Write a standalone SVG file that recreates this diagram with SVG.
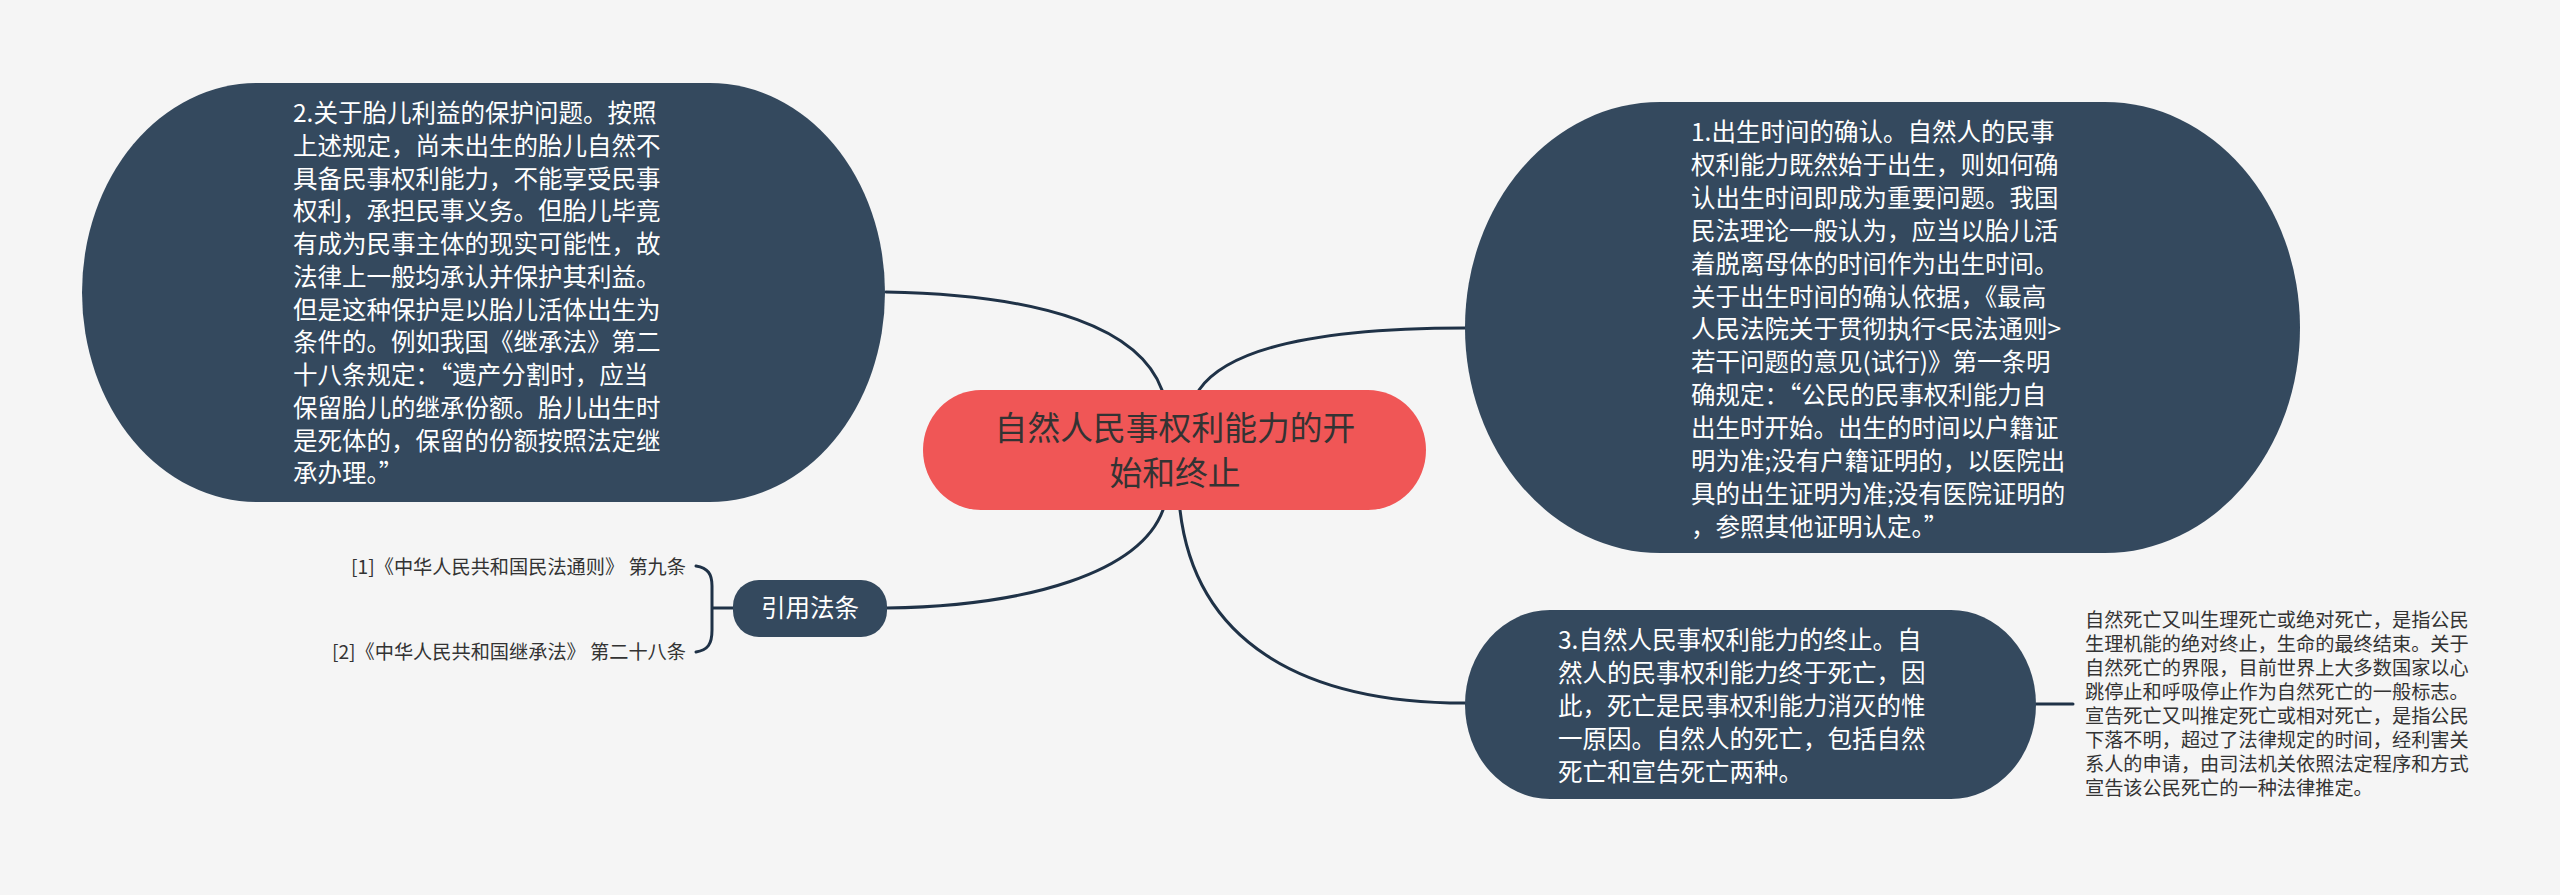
<svg xmlns="http://www.w3.org/2000/svg" width="2560" height="895" viewBox="0 0 2560 895">
<style>
.bg{fill:#f5f5f5}
.topic{fill:#34495e}
.root{fill:#f05656}
.conn{fill:none;stroke:#1f3247;stroke-width:3;stroke-linecap:round}
.t{font-family:"Noto Sans CJK SC","Noto Sans",sans-serif}
.w{fill:#ffffff;font-size:24.5px}
.rt{fill:#333333;font-size:32.8px}
.s{fill:#333333;font-size:19.2px}
</style>
<rect class="bg" x="0" y="0" width="2560" height="895"/>
<g id="connectors">
<path class="conn" d="M886 292 C1050 295 1140 330 1162 390"/>
<path class="conn" d="M1199 390 C1230 345 1330 328 1465 328"/>
<path class="conn" d="M1163 510 C1140 572 1030 606 887 608"/>
<path class="conn" d="M1180 510 C1195 640 1300 703 1465 703"/>
<path class="conn" d="M2036 704 L2073 704"/>
<path class="conn" d="M733 608 L713 608"/>
<path class="conn" d="M696 566 C708 568 712 574 712 586 L712 630 C712 644 708 650 696 652"/>
</g>
<g id="root">
<rect class="root" x="923" y="390" width="503" height="120" rx="58" ry="60"/>
<text class="t rt" text-anchor="middle"><tspan x="1175" y="440">自然人民事权利能力的开</tspan><tspan x="1175" y="485">始和终止</tspan></text>
</g>
<g id="node-fetus">
<rect class="topic" x="82" y="83" width="803" height="419" rx="175" ry="209.5"/>
<text class="t w">
<tspan x="293" y="122">2.关于胎儿利益的保护问题。按照</tspan>
<tspan x="293" y="154.75">上述规定，尚未出生的胎儿自然不</tspan>
<tspan x="293" y="187.5">具备民事权利能力，不能享受民事</tspan>
<tspan x="293" y="220.25">权利，承担民事义务。但胎儿毕竟</tspan>
<tspan x="293" y="253">有成为民事主体的现实可能性，故</tspan>
<tspan x="293" y="285.75">法律上一般均承认并保护其利益。</tspan>
<tspan x="293" y="318.5">但是这种保护是以胎儿活体出生为</tspan>
<tspan x="293" y="351.25">条件的。例如我国《继承法》第二</tspan>
<tspan x="293" y="384">十八条规定：“遗产分割时，应当</tspan>
<tspan x="293" y="416.75">保留胎儿的继承份额。胎儿出生时</tspan>
<tspan x="293" y="449.5">是死体的，保留的份额按照法定继</tspan>
<tspan x="293" y="482.25">承办理。”</tspan>
</text>
</g>
<g id="node-birth">
<rect class="topic" x="1465" y="102" width="835" height="451" rx="195" ry="225.5"/>
<text class="t w">
<tspan x="1691" y="141">1.出生时间的确认。自然人的民事</tspan>
<tspan x="1691" y="173.9">权利能力既然始于出生，则如何确</tspan>
<tspan x="1691" y="206.8">认出生时间即成为重要问题。我国</tspan>
<tspan x="1691" y="239.7">民法理论一般认为，应当以胎儿活</tspan>
<tspan x="1691" y="272.6">着脱离母体的时间作为出生时间。</tspan>
<tspan x="1691" y="305.5">关于出生时间的确认依据，《最高</tspan>
<tspan x="1691" y="338.4">人民法院关于贯彻执行&lt;民法通则&gt;</tspan>
<tspan x="1691" y="371.3">若干问题的意见(试行)》第一条明</tspan>
<tspan x="1691" y="404.2">确规定：“公民的民事权利能力自</tspan>
<tspan x="1691" y="437.1">出生时开始。出生的时间以户籍证</tspan>
<tspan x="1691" y="470">明为准;没有户籍证明的，以医院出</tspan>
<tspan x="1691" y="502.9">具的出生证明为准;没有医院证明的</tspan>
<tspan x="1691" y="535.8">，参照其他证明认定。”</tspan>
</text>
</g>
<g id="node-end">
<rect class="topic" x="1465" y="610" width="571" height="189" rx="85" ry="94.5"/>
<text class="t w">
<tspan x="1558" y="649">3.自然人民事权利能力的终止。自</tspan>
<tspan x="1558" y="682">然人的民事权利能力终于死亡，因</tspan>
<tspan x="1558" y="715">此，死亡是民事权利能力消灭的惟</tspan>
<tspan x="1558" y="748">一原因。自然人的死亡，包括自然</tspan>
<tspan x="1558" y="781">死亡和宣告死亡两种。</tspan>
</text>
</g>
<g id="leaf-death">
<text class="t s">
<tspan x="2085" y="627">自然死亡又叫生理死亡或绝对死亡，是指公民</tspan>
<tspan x="2085" y="651">生理机能的绝对终止，生命的最终结束。关于</tspan>
<tspan x="2085" y="675">自然死亡的界限，目前世界上大多数国家以心</tspan>
<tspan x="2085" y="699">跳停止和呼吸停止作为自然死亡的一般标志。</tspan>
<tspan x="2085" y="723">宣告死亡又叫推定死亡或相对死亡，是指公民</tspan>
<tspan x="2085" y="747">下落不明，超过了法律规定的时间，经利害关</tspan>
<tspan x="2085" y="771">系人的申请，由司法机关依照法定程序和方式</tspan>
<tspan x="2085" y="795">宣告该公民死亡的一种法律推定。</tspan>
</text>
</g>
<g id="node-law">
<rect class="topic" x="733" y="580" width="154" height="57" rx="26" ry="26"/>
<text class="t w" x="810" y="617" text-anchor="middle">引用法条</text>
</g>
<g id="leaf-law1">
<text class="t s" x="686" y="574" text-anchor="end">[1]《中华人民共和国民法通则》 第九条</text>
</g>
<g id="leaf-law2">
<text class="t s" x="686" y="659" text-anchor="end">[2]《中华人民共和国继承法》 第二十八条</text>
</g>
</svg>
